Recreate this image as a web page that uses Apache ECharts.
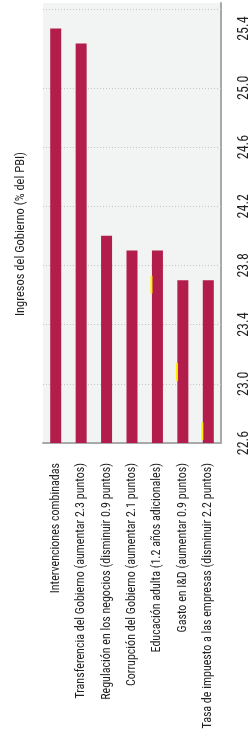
<!DOCTYPE html>
<html>
<head>
<meta charset="utf-8">
<script src="https://cdn.jsdelivr.net/npm/echarts@6.0.0/dist/echarts.min.js"></script>
<style>
html, body { margin: 0; padding: 0; background: #fff; }
#chart { width: 251px; height: 752px; }
</style>
</head>
<body>
<div id="chart"></div>
<script>
var categories = [
	'Intervenciones combinadas',
	'Transferencia del Gobierno (aumentar 2.3 puntos)',
	'Regulación en los negocios (disminuir 0.9 puntos)',
	'Corrupción del Gobierno (aumentar 2.1 puntos)',
	'Educación adulta (1.2 años adicionales)',
	'Gasto en I&D (aumentar 0.9 puntos)',
	'Tasa de impuesto a las empresas (disminuir 2.2 puntos)'
];
var ingresos = [25.4, 25.3, 24.0, 23.9, 23.9, 23.7, 23.7];
// small yellow marks seen beside three bars: [category index, low, high]
var marcas = [[4, 23.61, 23.73], [5, 23.02, 23.14], [6, 22.62, 22.74]];
var tickLabels = ['22.6', '23.0', '23.4', '23.8', '24.2', '24.6', '25.0', '25.4'];
var gridLines = [23.0, 23.4, 23.8, 24.2, 24.6, 25.0, 25.53];
var axisTitle = 'Ingresos del Gobierno (% del PBI)';

var font = "'Roboto Condensed', 'DejaVu Sans Condensed', sans-serif";
var chart = echarts.init(document.getElementById('chart'));

var option = {
	animation: false,
	grid: {
		left: 43,
		right: 27,
		top: 0,
		bottom: 309,
		show: true,
		backgroundColor: '#f2f4f3',
		borderWidth: 0
	},
	xAxis: {
		type: 'category',
		data: categories,
		axisLine: { lineStyle: { color: '#a7a9ac', width: 2 } },
		axisTick: { show: false },
		axisLabel: {
			rotate: 90,
			interval: 0,
			margin: 20,
			fontFamily: font,
			fontSize: 12,
			color: '#231f20'
		}
	},
	yAxis: [{
		type: 'value',
		position: 'right',
		min: 22.6,
		max: 25.573,
		interval: 0.2,
		axisLine: { show: true, lineStyle: { color: '#a7a9ac', width: 2 } },
		axisTick: { show: false },
		splitLine: { show: false },
		axisLabel: {
			rotate: 90,
			margin: 16,
			fontFamily: font,
			fontSize: 14,
			color: '#231f20',
			formatter: function (v) {
				var s = v.toFixed(1);
				return (Math.abs(v - parseFloat(s)) < 1e-6 && tickLabels.indexOf(s) >= 0) ? s : '';
			}
		}
	}, {
		type: 'value',
		position: 'left',
		min: 22.6,
		max: 25.573,
		name: axisTitle,
		nameLocation: 'middle',
		nameRotate: 90,
		nameGap: 16,
		nameTextStyle: {
			fontFamily: font,
			fontSize: 12.5,
			color: '#231f20',
			padding: [0, 22, 0, 0]
		},
		axisLine: { show: false },
		axisTick: { show: false },
		axisLabel: { show: false },
		splitLine: { show: false }
	}],
	series: [{
		type: 'bar',
		data: ingresos,
		barWidth: 11,
		z: 3,
		itemStyle: { color: '#b31d4c' },
		markLine: {
			silent: true,
			z: 1,
			symbol: 'none',
			label: { show: false },
			lineStyle: { type: [1, 2], color: '#c4c6c6', width: 1 },
			data: gridLines.map(function (v) { return { yAxis: v }; })
		}
	}, {
		type: 'custom',
		data: marcas,
		z: 4,
		silent: true,
		renderItem: function (params, api) {
			var top = api.coord([api.value(0), api.value(2)]);
			var bottom = api.coord([api.value(0), api.value(1)]);
			return {
				type: 'rect',
				shape: { x: top[0] - 7, y: top[1], width: 2, height: bottom[1] - top[1] },
				style: { fill: '#fff200' }
			};
		}
	}]
};

chart.setOption(option);
window.addEventListener('resize', function () {
	chart.resize();
});
</script>
</body>
</html>
